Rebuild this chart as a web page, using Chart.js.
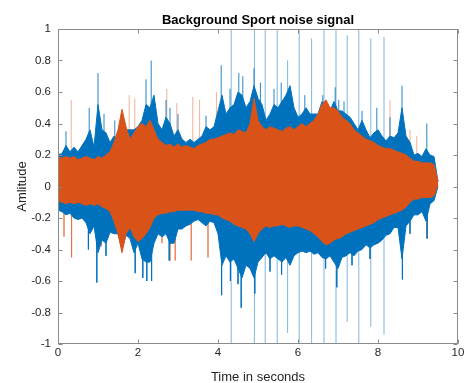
<!DOCTYPE html>
<html>
<head>
<meta charset="utf-8">
<script src="https://cdn.jsdelivr.net/npm/chart.js@4.4.1/dist/chart.umd.min.js"></script>
<style>
  html, body { margin: 0; padding: 0; background: #fff; }
  canvas { display: block; }
</style>
</head>
<body>
<canvas id="noiseChart" width="468" height="383"></canvas>
<script>
// dense part of each signal, one sample every 0.1 s from 0 s (last sample is the short tail)
const envStep = 0.1;

const blueHi = [
  0.20, 0.21, 0.26, 0.22, 0.25, 0.22, 0.26, 0.30, 0.36, 0.25,
  0.52, 0.36, 0.34, 0.28, 0.32, 0.28, 0.42, 0.36, 0.36, 0.36,
  0.38, 0.42, 0.52, 0.50, 0.58, 0.40, 0.36, 0.44, 0.40, 0.32,
  0.36, 0.30, 0.28, 0.30, 0.28, 0.30, 0.32, 0.38, 0.36, 0.38,
  0.48, 0.58, 0.46, 0.50, 0.52, 0.60, 0.58, 0.50, 0.54, 0.64,
  0.56, 0.52, 0.42, 0.46, 0.52, 0.50, 0.54, 0.58, 0.64, 0.50,
  0.44, 0.46, 0.50, 0.46, 0.46, 0.46, 0.54, 0.52, 0.48, 0.54,
  0.48, 0.48, 0.46, 0.44, 0.40, 0.36, 0.42, 0.36, 0.31, 0.34,
  0.36, 0.32, 0.29, 0.32, 0.31, 0.34, 0.50, 0.32, 0.28, 0.20,
  0.21, 0.19, 0.24, 0.20, 0.19, 0.03
];
const blueLo = [
  -0.15, -0.16, -0.18, -0.17, -0.20, -0.21, -0.20, -0.23, -0.30, -0.25,
  -0.42, -0.34, -0.36, -0.29, -0.30, -0.30, -0.40, -0.31, -0.33, -0.42,
  -0.36, -0.46, -0.48, -0.48, -0.36, -0.30, -0.32, -0.30, -0.36, -0.36,
  -0.27, -0.27, -0.25, -0.24, -0.22, -0.21, -0.23, -0.25, -0.22, -0.23,
  -0.30, -0.50, -0.44, -0.48, -0.46, -0.52, -0.58, -0.50, -0.52, -0.58,
  -0.48, -0.45, -0.42, -0.46, -0.44, -0.46, -0.48, -0.45, -0.50, -0.44,
  -0.42, -0.41, -0.42, -0.41, -0.43, -0.42, -0.45, -0.46, -0.44, -0.48,
  -0.52, -0.45, -0.44, -0.42, -0.44, -0.41, -0.40, -0.37, -0.39, -0.37,
  -0.36, -0.34, -0.31, -0.30, -0.26, -0.26, -0.46, -0.25, -0.22, -0.18,
  -0.18, -0.16, -0.22, -0.11, -0.09, 0.00
];
const orangeHi = [
  0.19, 0.18, 0.19, 0.18, 0.19, 0.17, 0.18, 0.19, 0.18, 0.17,
  0.19, 0.18, 0.20, 0.22, 0.28, 0.36, 0.49, 0.38, 0.30, 0.34,
  0.38, 0.40, 0.38, 0.42, 0.36, 0.30, 0.28, 0.26, 0.27, 0.25,
  0.27, 0.25, 0.26, 0.25, 0.24, 0.26, 0.27, 0.28, 0.30, 0.30,
  0.31, 0.32, 0.33, 0.34, 0.33, 0.36, 0.35, 0.34, 0.40, 0.56,
  0.42, 0.38, 0.36, 0.38, 0.37, 0.36, 0.35, 0.37, 0.38, 0.36,
  0.38, 0.40, 0.38, 0.40, 0.42, 0.46, 0.52, 0.55, 0.50, 0.50,
  0.48, 0.44, 0.42, 0.40, 0.36, 0.34, 0.32, 0.30, 0.29, 0.28,
  0.26, 0.25, 0.24, 0.24, 0.23, 0.22, 0.21, 0.20, 0.18, 0.16,
  0.16, 0.15, 0.15, 0.15, 0.14, 0.03
];
const orangeLo = [
  -0.09, -0.10, -0.11, -0.10, -0.11, -0.10, -0.11, -0.12, -0.11, -0.12,
  -0.11, -0.13, -0.14, -0.16, -0.22, -0.30, -0.42, -0.30, -0.26, -0.32,
  -0.35, -0.33, -0.30, -0.26, -0.20, -0.18, -0.17, -0.17, -0.16, -0.16,
  -0.15, -0.15, -0.15, -0.15, -0.15, -0.16, -0.16, -0.17, -0.17, -0.18,
  -0.18, -0.20, -0.21, -0.22, -0.24, -0.25, -0.26, -0.27, -0.30, -0.35,
  -0.30, -0.27, -0.25, -0.26, -0.25, -0.25, -0.24, -0.25, -0.26, -0.25,
  -0.25, -0.26, -0.27, -0.28, -0.30, -0.32, -0.35, -0.37, -0.36, -0.34,
  -0.33, -0.32, -0.30, -0.29, -0.28, -0.27, -0.26, -0.25, -0.24, -0.23,
  -0.21, -0.20, -0.19, -0.18, -0.17, -0.16, -0.15, -0.13, -0.10, -0.08,
  -0.08, -0.07, -0.07, -0.07, -0.06, 0.01
];

// sharp blue peaks above and below the dense part (time, peak)
const blueSpikeT = [
  0.20, 0.76, 0.78, 0.97, 1.00, 1.15, 1.20, 1.42, 1.93, 2.12,
  2.20, 2.22, 2.33, 2.34, 2.70, 2.78, 2.80, 3.00, 3.70, 4.08,
  4.09, 4.30, 4.31, 4.50, 4.52, 4.58, 4.62, 4.90, 4.92, 5.06,
  5.30, 5.40, 5.58, 5.59, 6.17, 6.62, 6.69, 6.93, 6.97, 7.02,
  7.15, 7.35, 7.60, 7.80, 7.97, 8.30, 8.60, 8.61, 8.80, 9.22,
  9.23
];
const blueSpikeV = [
  0.35, -0.40, 0.50, -0.61, 0.72, 0.46, -0.44, 0.42, -0.55, -0.58,
  0.68, -0.60, 0.80, -0.60, 0.55, -0.47, 0.50, 0.46, 0.45, 0.77,
  -0.69, 0.62, -0.60, -0.62, 0.72, -0.77, 0.70, 0.75, -0.68, 0.66,
  -0.54, 0.62, 0.66, -0.56, 0.58, 0.58, -0.52, 0.63, -0.64, 0.55,
  0.54, -0.50, 0.48, -0.46, 0.50, 0.44, 0.64, -0.59, -0.30, 0.40,
  -0.33
];

// pale isolated spikes (time, peak)
const paleSpikeT = [0.15, 0.33, 0.34, 1.08, 1.78, 1.92, 2.60, 2.72, 2.80, 2.93, 2.97, 3.33, 3.37, 3.54, 3.75, 3.96, 8.30, 8.80, 8.97, 9.22];
const paleSpikeV = [-0.32, 0.55, -0.45, -0.38, 0.58, 0.56, -0.36, 0.62, -0.47, -0.47, 0.53, -0.47, 0.57, 0.55, -0.45, 0.60, 0.55, 0.36, 0.32, -0.33];

// the long clicks that run nearly the full height
const clickT  = [4.33, 4.91, 5.18, 5.48, 5.74, 6.03, 6.34, 6.65, 6.95, 7.23, 7.52, 7.82, 8.15];
const clickHi = [1.00, 1.00, 1.00, 1.00, 0.80, 1.00, 0.94, 1.00, 1.00, 0.96, 1.00, 0.94, 0.95];
const clickLo = [-1.00, -1.00, -1.00, -1.00, -0.93, -1.00, -1.00, -1.00, -1.00, -0.86, -1.00, -0.89, -0.94];

const xTicks = [0, 2, 4, 6, 8, 10];
const yTicks = [-1, -0.8, -0.6, -0.4, -0.2, 0, 0.2, 0.4, 0.6, 0.8, 1];

const blueColor = '#0072BD';
const orangeColor = '#D95319';
const textColor = '#262626';
const fontFamily = '"Liberation Sans", Arial, Helvetica, sans-serif';

function band(values) {
  return values.map((v, i) => ({ x: i * envStep, y: v }));
}

// vertical segments, separated by gaps
function segments(times, from, to) {
  const pts = [];
  times.forEach((t, i) => {
    pts.push({ x: t, y: Array.isArray(from) ? from[i] : from });
    pts.push({ x: t, y: to[i] });
    pts.push({ x: t, y: null });
  });
  return pts;
}

// MATLAB style box with inward tick marks
const axesBox = {
  id: 'axesBox',
  afterDatasetsDraw(chart) {
    const { ctx, chartArea: a, scales: { x, y } } = chart;
    const L = Math.round(a.left) + 0.5, R = Math.round(a.right) - 0.5;
    const T = Math.round(a.top) + 0.5, B = Math.round(a.bottom) - 0.5;
    ctx.save();
    ctx.strokeStyle = '#8a8a8a';
    ctx.lineWidth = 1;
    ctx.strokeRect(L, T, R - L, B - T);
    ctx.beginPath();
    x.ticks.forEach(t => {
      const px = Math.round(x.getPixelForValue(t.value)) + 0.5;
      ctx.moveTo(px, B); ctx.lineTo(px, B - 4);
      ctx.moveTo(px, T); ctx.lineTo(px, T + 4);
    });
    y.ticks.forEach(t => {
      const py = Math.round(y.getPixelForValue(t.value)) + 0.5;
      ctx.moveTo(L, py); ctx.lineTo(L + 4, py);
      ctx.moveTo(R, py); ctx.lineTo(R - 4, py);
    });
    ctx.stroke();
    ctx.restore();
  }
};

new Chart(document.getElementById('noiseChart'), {
  type: 'line',
  data: {
    datasets: [
      { data: band(orangeHi), borderColor: orangeColor, backgroundColor: orangeColor, borderWidth: 1, fill: '+1', order: 0 },
      { data: band(orangeLo), borderColor: orangeColor, borderWidth: 1, fill: false, order: 0 },
      { data: band(blueHi), borderColor: blueColor, backgroundColor: blueColor, borderWidth: 1, fill: '+1', order: 1 },
      { data: band(blueLo), borderColor: blueColor, borderWidth: 1, fill: false, order: 1 },
      { data: segments(blueSpikeT, 0, blueSpikeV), borderColor: 'rgba(0,114,189,0.85)', borderWidth: 1, fill: false, order: 2 },
      { data: segments(paleSpikeT, 0, paleSpikeV), borderColor: 'rgba(217,83,25,0.45)', borderWidth: 1, fill: false, order: 3 },
      { data: segments(clickT, clickLo, clickHi), borderColor: 'rgba(0,114,189,0.5)', borderWidth: 1, fill: false, order: 4 }
    ]
  },
  options: {
    responsive: false,
    animation: false,
    events: [],
    elements: { point: { radius: 0 }, line: { tension: 0 } },
    layout: { padding: { left: 0, right: 10, top: 0, bottom: 0 } },
    plugins: {
      legend: { display: false },
      tooltip: { enabled: false },
      title: {
        display: true,
        text: 'Background Sport noise signal',
        fullSize: false,
        color: '#000',
        font: { family: fontFamily, size: 13, weight: 'bold' },
        padding: { top: 12.2, bottom: 1.2 }
      }
    },
    scales: {
      x: {
        type: 'linear', min: 0, max: 10,
        afterBuildTicks: s => { s.ticks = xTicks.map(v => ({ value: v })); },
        afterFit: s => { s.height = 39; },
        grid: { display: false, drawTicks: false },
        border: { display: false },
        ticks: { color: textColor, font: { family: fontFamily, size: 11.5 }, padding: 2, maxRotation: 0, autoSkip: false },
        title: { display: true, text: 'Time in seconds', color: textColor, font: { family: fontFamily, size: 13 }, padding: { top: 0, bottom: -2 } }
      },
      y: {
        type: 'linear', min: -1, max: 1,
        afterBuildTicks: s => { s.ticks = yTicks.map(v => ({ value: v })); },
        afterFit: s => { s.width = 58; },
        grid: { display: false, drawTicks: false },
        border: { display: false },
        ticks: {
          color: textColor, font: { family: fontFamily, size: 11.5 }, padding: 7, autoSkip: false,
          callback: v => String(Math.round(v * 10) / 10)
        },
        title: { display: true, text: 'Amlitude', color: textColor, font: { family: fontFamily, size: 13 }, padding: { top: 15, bottom: 0 } }
      }
    }
  },
  plugins: [axesBox]
});
</script>
</body>
</html>
